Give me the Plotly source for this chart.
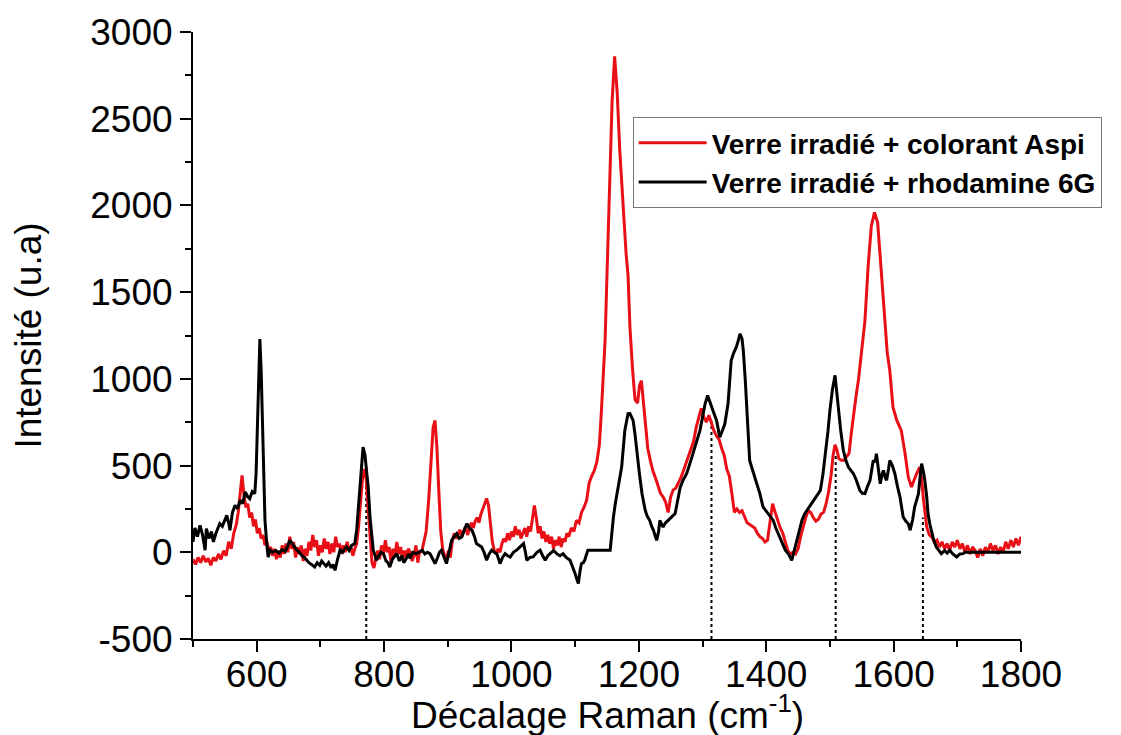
import plotly.graph_objects as go

# Raman spectra
RED_X = [500, 504, 508, 512, 516, 520, 524, 528, 532, 536, 540, 544, 548, 552, 556, 560, 564, 568, 571, 574,
         577, 580, 583, 586, 589, 592, 595, 598, 601, 604, 607, 610, 613, 616, 619, 622, 625, 628, 631, 634,
         637, 640, 643, 646, 649, 652, 655, 658, 661, 664, 667, 670, 673, 676, 679, 682, 685, 688, 691, 694,
         697, 700, 703, 706, 709, 712, 715, 718, 721, 724, 727, 730, 733, 736, 739, 742, 745, 748, 751, 754,
         757, 760, 763, 766, 769, 772, 775, 778, 781, 784, 787, 790, 793, 796, 799, 802, 805, 808, 811, 814,
         817, 820, 823, 826, 829, 832, 835, 838, 841, 844, 847, 850, 853, 856, 859, 862, 866, 870, 874, 877,
         880, 883, 886, 889, 892, 895, 898, 901, 904, 907, 910, 913, 916, 919, 922, 925, 928, 931, 934, 937,
         940, 943, 946, 949, 952, 955, 958, 961, 964, 967, 970, 973, 976, 979, 982, 985, 988, 991, 994, 997,
         1000, 1003, 1006, 1009, 1012, 1015, 1018, 1021, 1024, 1027, 1030, 1033, 1036, 1039, 1042, 1045, 1048,
         1051, 1054, 1057, 1060, 1063, 1066, 1069, 1072, 1075, 1078, 1081, 1084, 1087,
         1090, 1094, 1098, 1102, 1106, 1110, 1114, 1118, 1122, 1126, 1130, 1134, 1138, 1141, 1144, 1147, 1150,
         1154, 1158, 1162, 1166, 1170, 1175, 1180, 1183, 1186, 1190, 1194, 1198, 1201, 1204, 1207, 1210, 1214,
         1218, 1222, 1226, 1230, 1234, 1238, 1242, 1246, 1250, 1254, 1258, 1262, 1266, 1270, 1274, 1278, 1282,
         1286, 1290, 1294, 1298, 1302, 1306, 1310, 1314, 1318, 1322, 1326, 1330, 1334, 1338, 1342, 1346, 1350,
         1354, 1358, 1362, 1366, 1370, 1374, 1378, 1382, 1386, 1390, 1394, 1398, 1402, 1406, 1410, 1414, 1418,
         1422, 1426, 1430, 1434, 1438, 1442, 1446, 1450, 1454, 1458, 1462, 1466, 1470, 1474, 1478, 1482, 1486,
         1490, 1494, 1498, 1502, 1505, 1508, 1511, 1514, 1518, 1522, 1526, 1530, 1534, 1537, 1541, 1545, 1549,
         1555, 1560, 1565, 1570, 1575, 1580, 1586, 1590, 1594, 1599, 1605, 1612, 1618, 1623, 1628, 1632, 1636,
         1641, 1644, 1647, 1652, 1656, 1660, 1664, 1668, 1672, 1676, 1680, 1684, 1688, 1692, 1696, 1700, 1704,
         1708, 1712, 1716, 1720, 1724, 1728, 1732, 1736, 1740, 1744, 1748, 1752, 1756, 1760, 1764, 1768, 1772,
         1776, 1780, 1784, 1788, 1792, 1796, 1800]
RED_Y = [-40, -70, -30, -60, -20, -55, -35, -75, -30, -50, -10, -40, 10, -20, 60, 20, 110, 160, 230, 330,
         444, 330, 260, 280, 200, 230, 150, 190, 110, 140, 80, 100, 40, 60, 10, 30, -20, 20, -40, 10,
         -30, 40, -10, 50, 0, 90, 20, 60, -30, 30, -10, 40, -50, 20, -20, 60, 10, 100, 30, 70,
         -20, 40, 0, 80, 20, 60, -10, 50, 0, 90, 30, 50, -10, 40, 0, 60, 10, 30, -20, 20,
         50, 150, 300, 420, 480, 420, 250, 80, -60, -90, -30, 10, -40, 40, -10, 70, 0, 30, -60, 20,
         -20, 60, -10, 30, -40, 10, -30, 20, 0, -50, -20, 40, -60, 10, 0, 50, 120, 300, 560, 720,
         760, 600, 350, 120, 20, -20, -40, 10, -30, 60, 110, 80, 100, 130, 90, 120, 150, 100, 130, 170,
         140, 180, 200, 170, 220, 250, 290, 310, 270, 160, 60, 10, -10, 20, 0, 50, 80, 60, 110, 70,
         120, 90, 150, 100, 130, 80, 110, 140, 90, 150, 120, 190, 270, 200, 110, 150, 80,
         120, 60, 100, 50, 90, 20, 70, 40, 90, 30, 80, 60, 110,
         90, 140, 120, 184, 170, 230, 260, 300, 400, 440, 470, 520, 620, 800, 1050, 1220, 1600,
         2100, 2600, 2860, 2650, 2320, 2000, 1720, 1600, 1300, 1060, 880, 860, 960, 990, 860, 740, 600,
         530, 470, 430, 380, 340, 320, 290, 230, 320, 360, 370, 400, 430, 470, 510, 550, 590,
         640, 720, 780, 830, 780, 750, 790, 740, 700, 670, 650, 600, 560, 480, 440, 340, 230,
         250, 230, 240, 200, 170, 160, 150, 140, 110, 90, 80, 60, 70, 180, 280, 230, 180,
         140, 110, 60, 10, -10, 0, -10, 20, 90, 150, 200, 240, 230, 200, 180, 190, 220,
         230, 280, 350, 450, 560, 620, 590, 540, 530, 530, 550, 570, 700, 800, 900, 1000, 1144,
         1336, 1650, 1880, 1960, 1900, 1650, 1336, 1150, 1048, 837, 760, 703, 568, 434, 376, 420, 453,
         491, 420, 300, 146, 100, 88, 60, 70, 30, 60, 20, 50, 10, 60, 30, 70, 20, 50,
         0, 40, -10, 30, 10, -30, 20, -20, 30, 0, 50, 10, 40, -10, 30, 0, 60,
         20, 70, 30, 80, 40, 90, 60]

BLACK_X = [500, 503, 507, 511, 515, 519, 521, 525, 529, 532, 536, 539, 542, 546, 550, 553, 556, 558, 562, 566,
           570, 574, 578, 582, 586, 589, 593, 597, 599, 601, 603, 605, 607, 609, 611, 613, 616, 618, 621, 625,
           630, 635, 640, 645, 649, 652, 656, 660, 663, 667, 671, 675, 678, 682, 686, 691, 695, 699, 702, 705,
           709, 713, 717, 720, 723, 727, 731, 735, 738, 741, 745, 749, 754, 757, 760, 763, 767, 770, 773, 775,
           778, 781, 783, 786, 788, 792, 795, 799, 803, 806, 809, 813, 817, 820, 824, 828, 831, 835, 839, 841,
           845, 851, 856, 860, 864, 868, 872, 876, 880, 884, 887, 890, 894, 898, 902, 906, 910, 914, 918, 922,
           926, 930, 934, 938, 942, 945, 949, 953, 957, 961, 965, 969, 973, 977, 980, 982, 986, 990, 994, 998,
           1003, 1008, 1013, 1019, 1022, 1024, 1029, 1034, 1040, 1045, 1049, 1053, 1057, 1060, 1066, 1071, 1076,
           1081, 1086, 1092, 1096, 1100, 1103, 1105, 1108, 1110, 1113, 1115, 1118, 1120, 1155, 1157, 1160, 1163,
           1168, 1173, 1178, 1183, 1186, 1189, 1191, 1194, 1197, 1201, 1205, 1210, 1213, 1217, 1220, 1223, 1226,
           1228, 1231, 1233, 1236, 1238, 1242, 1246, 1250, 1254, 1257, 1261, 1265, 1270, 1275, 1280, 1285, 1290,
           1296, 1300, 1304, 1308, 1311, 1314, 1318, 1322, 1327, 1331, 1335, 1340, 1343, 1345, 1349, 1353, 1356,
           1359, 1362, 1364, 1367, 1369, 1372, 1374, 1378, 1382, 1386, 1390, 1395, 1399, 1403, 1407, 1411, 1415,
           1419, 1424, 1430, 1435, 1440, 1444, 1448, 1452, 1456, 1460, 1464, 1469, 1474, 1479, 1485, 1489, 1493,
           1497, 1500, 1504, 1508, 1511, 1513, 1517, 1521, 1525, 1529, 1533, 1537, 1541, 1547, 1551, 1555, 1559,
           1563, 1568, 1571, 1573, 1576, 1579, 1582, 1584, 1587, 1589, 1592, 1594, 1598, 1602, 1606, 1610, 1613,
           1615, 1619, 1623, 1626, 1630, 1633, 1636, 1639, 1642, 1644, 1647, 1649, 1652, 1654, 1657, 1660, 1663,
           1667, 1671, 1675, 1680, 1684, 1688, 1693, 1699, 1704, 1709, 1712, 1800]
BLACK_Y = [60, 140, 90, 155, 100, 12, 136, 80, 120, 60, 110, 140, 165, 150, 190, 213, 170, 127, 230, 271,
           250, 300, 280, 348, 320, 309, 350, 338, 450, 760, 1050, 1230, 1050, 760, 450, 184, 40, -27, 12, 0,
           10, -5, 15, 5, 40, 69, 50, 30, 12, 0, -20, -30, -46, -60, -70, -85, -60, -75, -50, -65,
           -80, -60, -90, -70, -104, -40, 12, 0, 20, 31, 10, 40, 50, 130, 260, 420, 607, 560, 450, 380,
           200, 60, 12, -20, -46, -20, 0, -8, -50, -60, -85, -40, -20, -8, -50, -20, -60, -36, -10, -36,
           0, -8, 2, 12, -10, 0, -8, -40, -65, -30, 0, 12, -30, -65, 0, 69, 90, 107, 80, 88,
           130, 165, 140, 127, 90, 50, 40, 31, 0, -46, -10, 12, 0, -8, -40, -65, -30, -8, -20, -27,
           0, 12, 30, 50, 0, -46, -30, -27, 0, 12, -20, -46, -20, -8, 10, -8, -20,
           -8, -30, -46, -80, -123, -160, -180, -100, -65, -60, -46, -10, 12, 12, 107, 200, 280,
           395, 491, 703, 799, 800, 780, 760, 680, 568, 450, 338, 242, 210, 184, 150, 127, 90,
           69, 120, 184, 160, 146, 170, 184, 200, 210, 223, 300, 376, 420, 453, 510, 568, 620,
           703, 780, 856, 904, 870, 833, 800, 760, 664, 700, 741, 856, 980, 1106, 1150, 1183, 1220,
           1260, 1230, 1164, 1000, 856, 680, 530, 480, 434, 380, 338, 261, 240, 223, 200, 184, 140,
           107, 60, 12, -10, -46, 10, 69, 130, 184, 220, 242, 270, 300, 330, 357, 450, 568,
           700, 818, 940, 1020, 900, 818, 700, 588, 530, 491, 470, 453, 420, 357, 340, 338, 380,
           415, 530, 520, 568, 480, 395, 450, 472, 430, 415, 480, 530, 500, 453, 380, 319, 250,
           203, 180, 165, 127, 190, 261, 300, 338, 450, 511, 460, 415, 320, 223, 160, 107, 70,
           31, 10, -8, 10, -5, 12, -10, -27, -10, -8, 0, 0]

# dotted drop lines marking shared bands
DROP_X = [772, 1314, 1509, 1646]
DROP_TOP = [450, 760, 560, 200]

X_RANGE = [500, 1800]
Y_RANGE = [-500, 3000]
X_TICKS = [600, 800, 1000, 1200, 1400, 1600, 1800]
Y_TICKS = [-500, 0, 500, 1000, 1500, 2000, 2500, 3000]
Y_TICK_TEXT = ['-500', '0', '500', '1000', '1500', '2000', '2500', '3000']

FONT = 'Liberation Sans, Arial, sans-serif'

fig = go.Figure()

dx, dy = [], []
for x, top in zip(DROP_X, DROP_TOP):
    dx += [x, x, None]
    dy += [Y_RANGE[0], top, None]
fig.add_trace(go.Scatter(
    x=dx, y=dy, mode='lines', showlegend=False, hoverinfo='skip',
    line=dict(color='black', width=2, dash='dot'),
))

fig.add_trace(go.Scatter(
    x=RED_X, y=RED_Y, mode='lines',
    name='Verre irradié + colorant Aspi',
    line=dict(color='rgb(232,16,22)', width=3),
))
fig.add_trace(go.Scatter(
    x=BLACK_X, y=BLACK_Y, mode='lines',
    name='Verre irradié + rhodamine 6G',
    line=dict(color='black', width=3),
))

# x-axis title as an annotation so it can sit close under the tick labels
fig.add_annotation(
    text='Décalage Raman (cm<sup>-1</sup>)',
    xref='paper', yref='paper', x=0.5, y=-0.163,
    xanchor='center', yanchor='bottom',
    showarrow=False, font=dict(family=FONT, size=37, color='black'),
)

# the page body has an 8px margin, so margins are shifted by 8
fig.update_layout(
    width=1121,
    height=735,
    margin=dict(l=185, r=108, t=24, b=104),
    plot_bgcolor='white',
    paper_bgcolor='white',
    font=dict(family=FONT, color='black'),
    legend=dict(
        x=0.531, y=0.86, xanchor='left', yanchor='top',
        bgcolor='white', bordercolor='#777777', borderwidth=1,
        font=dict(family=FONT, size=28, color='black', weight='bold'),
        itemwidth=68,
        tracegroupgap=0,
    ),
    xaxis=dict(
        range=X_RANGE,
        tickmode='array', tickvals=X_TICKS,
        showgrid=False, zeroline=False,
        showline=True, linecolor='black', linewidth=2,
        ticks='outside', ticklen=11, tickwidth=2, tickcolor='black',
        tickfont=dict(size=37),
        ticklabelstandoff=-9,
        minor=dict(ticks='outside', ticklen=6, tickwidth=2, tickcolor='black', dtick=100, tick0=0),
        automargin=False,
    ),
    yaxis=dict(
        range=Y_RANGE,
        tickmode='array', tickvals=Y_TICKS, ticktext=Y_TICK_TEXT,
        showgrid=False, zeroline=False,
        showline=True, linecolor='black', linewidth=2,
        ticks='outside', ticklen=11, tickwidth=2, tickcolor='black',
        tickfont=dict(size=37),
        minor=dict(ticks='outside', ticklen=6, tickwidth=2, tickcolor='black', dtick=250, tick0=0),
        title=dict(text='Intensité (u.a)', font=dict(size=37), standoff=40),
        automargin=False,
    ),
)

fig.write_html("out.html")
